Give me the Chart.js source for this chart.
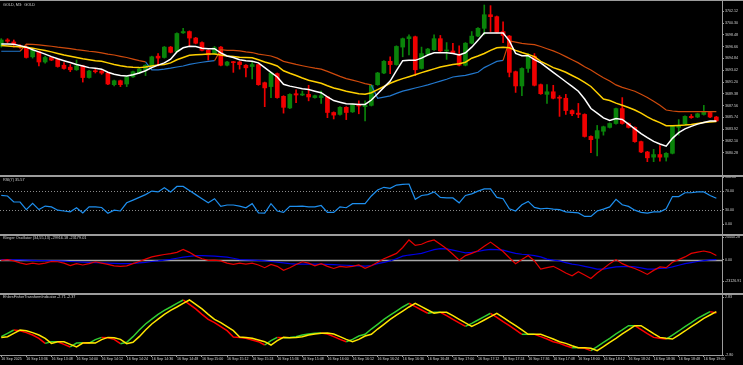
<!DOCTYPE html>
<html>
<head>
<meta charset="utf-8">
<script src="https://cdn.jsdelivr.net/npm/chart.js@4.4.1/dist/chart.umd.min.js"></script>
<style>
html, body { margin: 0; padding: 0; background: #000; }
#wrap { position: relative; width: 743px; height: 365px; background: #000; overflow: hidden; }
#wrap canvas { position: absolute; left: 0; }
</style>
</head>
<body>
<div id="wrap">
	<canvas id="main-pane" width="743" height="177" style="top:0px"></canvas>
	<canvas id="rsi-pane" width="743" height="59" style="top:177px"></canvas>
	<canvas id="klinger-pane" width="743" height="59" style="top:236px"></canvas>
	<canvas id="fisher-pane" width="743" height="70" style="top:295px"></canvas>
</div>
<script>
// GOLD M3 with MAs, RSI(7), Klinger and Ehlers Fisher panes

var tickLabels = ['16 Sep 2025', '16 Sep 13:36', '16 Sep 13:48', '16 Sep 14:00', '16 Sep 14:12', '16 Sep 14:24',
	'16 Sep 14:36', '16 Sep 14:48', '16 Sep 15:00', '16 Sep 15:12', '16 Sep 15:24', '16 Sep 15:36', '16 Sep 15:48',
	'16 Sep 16:00', '16 Sep 16:12', '16 Sep 16:24', '16 Sep 16:36', '16 Sep 16:48', '16 Sep 17:00', '16 Sep 17:12',
	'16 Sep 17:24', '16 Sep 17:36', '16 Sep 17:48', '16 Sep 18:00', '16 Sep 18:12', '16 Sep 18:24', '16 Sep 18:36',
	'16 Sep 18:48', '16 Sep 19:00'];

var priceTicks = [3702.12, 3700.30, 3698.48, 3696.66, 3694.84, 3693.02, 3691.20, 3689.38, 3687.56, 3685.74, 3683.92, 3682.10, 3680.28];
var rsiTicks = [100, 70, 30, 0];
var rsiLevels = [70, 30];
var klingerTicks = [24440.28, 0, -23126.91];
var fisherTicks = [2.83, -2.80];

var candleOpen = [3696.8, 3697.7, 3697.4, 3696.8, 3696.6, 3695.1, 3695.9, 3694.3, 3695.0, 3694.7,
	3693.8, 3693.5, 3693.1, 3693.7, 3691.9, 3692.9, 3692.9, 3692.6, 3690.8, 3691.4,
	3690.9, 3692.0, 3692.6, 3693.1, 3693.7, 3695.2, 3695.0, 3696.6, 3695.9, 3698.8,
	3699.0, 3698.0, 3697.3, 3696.1, 3695.6, 3696.6, 3693.8, 3694.3, 3694.3, 3693.8,
	3693.6, 3693.9, 3691.1, 3690.5, 3692.5, 3689.0, 3687.2, 3689.4, 3689.2, 3689.3,
	3688.8, 3688.8, 3688.9, 3686.5, 3686.2, 3687.3, 3686.6, 3687.7, 3687.4, 3687.6,
	3690.8, 3692.6, 3694.4, 3693.9, 3696.6, 3697.9, 3698.2, 3693.3, 3695.5, 3696.2,
	3697.9, 3696.0, 3696.0, 3695.4, 3693.8, 3697.2, 3698.3, 3699.5, 3701.6, 3701.3,
	3699.0, 3698.3, 3692.8, 3690.6, 3693.3, 3695.2, 3690.8, 3689.3, 3689.7, 3688.8,
	3688.7, 3686.8, 3686.4, 3686.2, 3682.8, 3682.5, 3683.6, 3684.2, 3684.8, 3687.1,
	3684.8, 3684.2, 3682.0, 3680.4, 3679.6, 3680.0, 3679.6, 3680.2, 3684.2, 3684.7,
	3685.9, 3685.8, 3686.2, 3686.5, 3685.8];
var candleHigh = [3697.9, 3697.9, 3697.7, 3697.0, 3696.8, 3696.3, 3696.0, 3695.2, 3695.1, 3694.8,
	3694.2, 3693.9, 3694.6, 3693.8, 3693.0, 3693.2, 3693.1, 3692.7, 3691.5, 3691.5,
	3692.1, 3692.9, 3693.3, 3693.9, 3695.2, 3695.6, 3696.7, 3696.7, 3698.8, 3699.5,
	3699.1, 3698.1, 3697.4, 3696.2, 3696.7, 3696.7, 3694.4, 3694.4, 3694.4, 3693.9,
	3694.4, 3694.0, 3691.2, 3692.7, 3692.6, 3689.1, 3689.4, 3690.0, 3689.8, 3690.7,
	3689.2, 3689.8, 3689.0, 3686.6, 3687.4, 3687.4, 3687.8, 3688.3, 3688.3, 3690.8,
	3692.7, 3694.5, 3695.1, 3696.8, 3698.0, 3698.5, 3698.3, 3696.6, 3696.4, 3698.5,
	3698.4, 3697.3, 3697.2, 3696.8, 3697.3, 3699.0, 3699.6, 3703.1, 3703.0, 3701.4,
	3700.5, 3698.4, 3692.9, 3693.4, 3695.6, 3695.6, 3690.9, 3690.8, 3690.7, 3689.1,
	3689.3, 3686.9, 3687.9, 3686.3, 3682.9, 3684.5, 3684.4, 3684.9, 3687.2, 3688.8,
	3684.9, 3684.3, 3682.1, 3680.5, 3680.8, 3681.4, 3680.3, 3684.5, 3685.4, 3686.0,
	3686.2, 3686.4, 3687.6, 3686.6, 3685.9];
var candleLow = [3696.6, 3697.3, 3696.6, 3696.4, 3694.9, 3694.9, 3693.7, 3694.1, 3694.5, 3693.5,
	3693.2, 3692.8, 3693.0, 3691.2, 3691.8, 3692.6, 3692.4, 3690.8, 3690.6, 3690.5,
	3690.5, 3691.9, 3692.5, 3692.2, 3693.6, 3693.7, 3694.9, 3695.7, 3695.8, 3698.7,
	3696.8, 3697.1, 3696.0, 3694.6, 3695.5, 3693.7, 3693.7, 3692.7, 3693.2, 3692.0,
	3691.7, 3690.7, 3687.4, 3688.8, 3688.7, 3686.4, 3687.1, 3688.0, 3689.1, 3688.3,
	3688.7, 3687.9, 3685.7, 3685.5, 3686.1, 3685.4, 3686.5, 3686.3, 3685.2, 3687.5,
	3690.7, 3692.5, 3692.5, 3693.8, 3695.1, 3695.4, 3692.2, 3693.2, 3695.4, 3696.1,
	3695.9, 3694.7, 3695.6, 3693.7, 3693.7, 3697.1, 3698.2, 3698.5, 3699.0, 3698.8,
	3697.3, 3692.0, 3689.6, 3689.1, 3692.7, 3690.6, 3689.3, 3687.9, 3688.6, 3685.9,
	3686.2, 3686.0, 3685.7, 3682.7, 3680.3, 3679.8, 3683.0, 3684.1, 3684.7, 3684.7,
	3684.1, 3681.9, 3680.3, 3678.9, 3678.9, 3679.0, 3679.0, 3680.1, 3683.0, 3684.6,
	3685.6, 3685.7, 3686.1, 3685.7, 3685.1];
var candleClose = [3697.7, 3697.5, 3697.0, 3696.6, 3695.0, 3696.1, 3694.3, 3695.0, 3694.6, 3693.6,
	3693.3, 3693.1, 3693.7, 3691.9, 3692.9, 3692.8, 3692.6, 3690.9, 3691.4, 3690.8,
	3692.0, 3692.8, 3693.2, 3693.8, 3695.1, 3694.9, 3696.6, 3695.8, 3698.7, 3699.0,
	3698.0, 3697.2, 3696.1, 3695.4, 3696.5, 3693.8, 3694.3, 3694.2, 3693.9, 3693.4,
	3693.9, 3690.8, 3690.3, 3692.6, 3688.8, 3687.3, 3689.3, 3689.2, 3689.3, 3688.9,
	3689.1, 3689.1, 3686.5, 3686.1, 3687.3, 3686.5, 3687.7, 3687.5, 3687.6, 3690.7,
	3692.6, 3694.4, 3693.9, 3696.7, 3697.9, 3698.2, 3693.1, 3695.6, 3696.3, 3697.9,
	3696.0, 3696.1, 3695.7, 3693.8, 3697.2, 3698.3, 3699.5, 3701.6, 3701.3, 3698.9,
	3698.4, 3692.7, 3690.6, 3693.3, 3695.2, 3690.7, 3689.4, 3689.7, 3688.7, 3688.7,
	3686.8, 3686.3, 3686.2, 3682.8, 3682.3, 3683.7, 3684.3, 3684.8, 3687.1, 3684.8,
	3684.2, 3682.0, 3680.4, 3679.5, 3680.0, 3679.6, 3680.2, 3684.4, 3684.5, 3685.9,
	3685.7, 3686.3, 3686.6, 3685.8, 3685.2];

var maWhite = [3697.07, 3697.07, 3697.03, 3696.83, 3696.59, 3696.20, 3695.86, 3695.52, 3695.13, 3694.79,
	3694.50, 3694.21, 3693.92, 3693.68, 3693.43, 3693.34, 3693.19, 3692.71, 3692.41, 3692.22,
	3692.12, 3692.32, 3692.61, 3692.95, 3693.43, 3693.82, 3694.16, 3694.74, 3695.86, 3696.49,
	3696.73, 3696.69, 3696.44, 3696.35, 3696.35, 3695.72, 3695.23, 3694.99, 3694.65, 3694.50,
	3694.40, 3694.16, 3693.43, 3692.71, 3691.98, 3690.86, 3690.57, 3690.38, 3690.18, 3690.04,
	3689.79, 3689.55, 3688.92, 3688.34, 3688.09, 3687.85, 3687.80, 3687.75, 3687.75, 3688.43,
	3689.40, 3690.38, 3691.35, 3692.95, 3694.50, 3694.55, 3694.55, 3694.89, 3695.38, 3695.72,
	3695.72, 3695.72, 3695.62, 3695.38, 3695.72, 3696.59, 3697.66, 3698.77, 3698.77, 3698.77,
	3698.77, 3697.56, 3695.62, 3695.28, 3695.28, 3694.65, 3694.16, 3693.43, 3692.71, 3691.98,
	3691.25, 3690.52, 3689.79, 3688.58, 3687.12, 3686.40, 3685.67, 3685.28, 3685.57, 3685.42,
	3684.70, 3683.97, 3683.24, 3682.61, 3682.03, 3681.64, 3681.30, 3682.51, 3683.39, 3683.97,
	3684.36, 3684.70, 3684.94, 3685.18, 3685.18];
var maYellow = [3696.83, 3696.78, 3696.69, 3696.64, 3696.59, 3696.44, 3696.25, 3696.06, 3695.86, 3695.62,
	3695.38, 3695.18, 3694.99, 3694.79, 3694.65, 3694.50, 3694.40, 3694.16, 3693.92, 3693.72,
	3693.58, 3693.48, 3693.43, 3693.53, 3693.68, 3693.82, 3693.92, 3694.16, 3694.65, 3694.99,
	3695.33, 3695.42, 3695.47, 3695.52, 3695.52, 3695.38, 3695.23, 3695.13, 3695.04, 3694.99,
	3694.94, 3694.65, 3694.31, 3694.02, 3693.68, 3692.95, 3692.56, 3692.22, 3691.83, 3691.49,
	3691.25, 3691.01, 3690.62, 3690.28, 3690.04, 3689.79, 3689.60, 3689.40, 3689.31, 3689.55,
	3690.04, 3690.52, 3691.01, 3691.40, 3691.73, 3692.03, 3692.32, 3692.66, 3692.95, 3693.24,
	3693.53, 3693.72, 3693.92, 3694.02, 3694.26, 3694.89, 3695.23, 3695.62, 3696.10, 3696.49,
	3696.59, 3696.49, 3696.10, 3695.76, 3695.47, 3695.13, 3694.40, 3693.92, 3693.43, 3693.09,
	3692.71, 3692.22, 3691.73, 3691.15, 3690.52, 3689.55, 3688.58, 3688.34, 3687.95, 3687.61,
	3687.27, 3686.88, 3686.40, 3685.81, 3685.33, 3684.94, 3684.45, 3684.45, 3684.50, 3684.55,
	3684.65, 3684.79, 3684.94, 3685.04, 3685.09];
// upper band (down trend) and lower band (up trend); null where the other one is active
var bandUpper = [null, null, null, 3695.96, 3697.07, 3697.03, 3696.93, 3696.83, 3696.73, 3696.59,
	3696.49, 3696.35, 3696.20, 3696.10, 3695.96, 3695.86, 3695.72, 3695.52, 3695.38, 3695.18,
	3694.99, 3694.74, 3694.50, 3694.31, null, null, null, null, null, null,
	null, null, null, null, 3694.50, 3696.20, 3696.10, 3696.10, 3696.01, 3695.86,
	3695.76, 3695.52, 3695.38, 3695.23, 3694.89, 3694.40, 3694.16, 3693.92, 3693.72, 3693.53,
	3693.34, 3693.19, 3692.85, 3692.46, 3692.07, 3691.73, 3691.49, 3691.25, 3690.96, 3690.76,
	null, null, null, null, null, null, null, null, null, null,
	null, null, null, null, null, null, null, null, null, null,
	3694.55, 3697.56, 3697.37, 3697.17, 3697.07, 3696.98, 3696.69, 3696.35, 3696.01, 3695.62,
	3695.13, 3694.65, 3694.16, 3693.58, 3693.05, 3692.46, 3691.88, 3691.35, 3690.76, 3690.38,
	3690.09, 3689.79, 3689.31, 3688.82, 3688.24, 3687.61, 3686.88, 3686.73, 3686.64, 3686.64,
	3686.64, 3686.64, 3686.64, 3686.64, 3686.64];
var bandLower = [3695.96, 3695.96, 3695.96, 3695.96, null, null, null, null, null, null,
	null, null, null, null, null, null, null, null, null, null,
	null, null, null, 3694.31, 3693.09, 3693.09, 3693.19, 3693.34, 3693.53, 3693.68,
	3693.92, 3694.11, 3694.26, 3694.40, 3694.50, null, null, null, null, null,
	null, null, null, null, null, null, null, null, null, null,
	null, null, null, null, null, null, null, null, null, 3690.76,
	3688.68, 3688.87, 3689.06, 3689.45, 3689.79, 3690.04, 3690.28, 3690.52, 3690.76, 3691.06,
	3691.35, 3691.64, 3691.98, 3692.12, 3692.22, 3692.46, 3692.71, 3693.43, 3693.92, 3694.40,
	3694.55, null, null, null, null, null, null, null, null, null,
	null, null, null, null, null, null, null, null, null, null,
	null, null, null, null, null, null, null, null, null, null,
	null, null, null, null, null];

var rsiValues = [60.7, 59.6, 46.8, 46.8, 30.6, 43.9, 30.6, 38.1, 36.4, 29.4,
	27.7, 25.9, 34.6, 23.6, 36.4, 36.4, 35.2, 23.0, 29.4, 27.7,
	45.1, 50.9, 56.7, 62.5, 70.0, 68.3, 77.0, 68.3, 79.9, 79.9,
	71.2, 62.5, 53.8, 45.1, 53.8, 37.5, 40.4, 40.4, 38.1, 34.6,
	43.3, 23.6, 23.0, 43.3, 27.7, 24.8, 37.5, 37.5, 38.1, 36.4,
	36.4, 39.3, 24.8, 24.8, 36.4, 34.6, 43.3, 43.3, 43.3, 59.6,
	72.3, 78.1, 75.8, 82.8, 84.5, 85.1, 52.6, 60.7, 62.5, 68.3,
	56.7, 55.5, 55.5, 45.1, 60.7, 64.2, 70.0, 74.6, 74.6, 56.7,
	53.8, 32.3, 27.7, 41.0, 48.0, 35.2, 32.3, 33.5, 31.7, 30.6,
	25.9, 24.8, 23.6, 16.1, 16.1, 27.7, 31.7, 36.4, 52.6, 41.0,
	37.5, 29.4, 24.8, 23.0, 25.9, 25.9, 32.3, 58.4, 58.4, 66.5,
	66.5, 68.3, 68.3, 60.7, 54.9];

var klingerMain = [-873, 0, -1455, -3492, -5238, -3783, -4947, -3783, -2037, -2328,
	-3783, -6402, -4365, -5820, -4365, -2328, -3783, -5238, -6693, -7275,
	-6693, -4365, -2037, 582, 2910, 4365, 5529, 6402, 7857, 11058,
	7857, 3783, 873, -873, -582, -1455, -3783, -5238, -3783, -4947,
	-3783, -5820, -8730, -5238, -7275, -11640, -8730, -5238, -2328, -3783,
	-6693, -4365, -7275, -9603, -7275, -8148, -7275, -5820, -9312, -6693,
	-2910, 873, 3783, 6693, 13095, 21243, 15423, 16587, 19497, 21243,
	16587, 11640, 5820, -582, 4365, 6693, 9603, 14550, 18915, 13968,
	8730, 2037, -4365, 0, 4365, -1455, -10185, -8730, -7275, -10767,
	-14550, -17460, -13095, -16587, -20370, -14550, -9603, -4365, 0, -4365,
	-7275, -9603, -12513, -16005, -11640, -7857, -8730, -2910, 0, 2910,
	6693, 8148, 9312, 7857, 4365];
var klingerSignal = [0, 0, -291, -291, -582, -873, -1164, -1164, -1455, -1455,
	-1746, -2037, -2328, -2619, -2910, -3201, -3492, -3783, -4074, -4365,
	-4365, -4074, -3492, -2910, -2037, -1455, -582, 291, 1455, 2619,
	3492, 4365, 4365, 4074, 3783, 3201, 2619, 1455, 0, -291,
	-582, -873, -1455, -2037, -2619, -3492, -4365, -4947, -4947, -4947,
	-4947, -4947, -5238, -5529, -5820, -6111, -6402, -6693, -6984, -6402,
	-4365, -2910, -1455, 873, 3783, 4947, 5820, 6693, 8730, 10767,
	11931, 11640, 10185, 8730, 7275, 7857, 8730, 10185, 11058, 10767,
	10185, 8439, 6693, 5820, 5238, 4365, 2910, 582, -582, -1455,
	-3201, -4947, -5820, -7275, -8730, -10185, -10185, -9021, -7857, -7566,
	-7275, -7857, -9021, -10185, -10185, -9603, -9312, -7857, -6111, -4365,
	-3201, -2037, -1164, -291, 0];

var fisherValues = [-1.02, -0.70, -0.37, -0.44, -0.63, -0.86, -1.18, -1.67, -1.51, -1.51,
	-1.77, -2.02, -1.64, -1.60, -1.64, -1.31, -1.09, -1.12, -1.28, -1.70,
	-1.57, -1.02, -0.37, 0.21, 0.69, 1.15, 1.54, 1.86, 2.22, 2.54,
	2.12, 1.67, 1.15, 0.66, 0.34, -0.05, -0.44, -1.05, -1.09, -1.18,
	-1.34, -1.51, -1.83, -1.41, -1.09, -1.12, -1.09, -1.02, -0.86, -0.76,
	-0.70, -0.67, -0.76, -1.02, -1.28, -1.51, -1.28, -0.96, -0.79, -0.28,
	0.18, 0.66, 1.08, 1.47, 1.86, 2.22, 1.89, 1.57, 1.25, 1.34,
	1.34, 1.02, 0.66, 0.31, -0.02, 0.27, 0.60, 0.92, 1.25, 0.86,
	0.44, 0.05, -0.37, -0.79, -0.79, -0.79, -1.02, -1.25, -1.51, -1.67,
	-1.90, -2.09, -2.09, -2.15, -2.38, -1.99, -1.57, -1.18, -0.76, -0.37,
	0.05, 0.05, -0.34, -0.73, -1.09, -1.18, -1.25, -0.86, -0.47, -0.05,
	0.34, 0.76, 1.08, 1.41, 1.28];
var fisherTrigger = [-1.09, -1.02, -0.70, -0.37, -0.44, -0.63, -0.86, -1.18, -1.67, -1.51,
	-1.51, -1.77, -2.02, -1.64, -1.60, -1.64, -1.31, -1.09, -1.12, -1.28,
	-1.70, -1.57, -1.02, -0.37, 0.21, 0.69, 1.15, 1.54, 1.86, 2.22,
	2.54, 2.12, 1.67, 1.15, 0.66, 0.34, -0.05, -0.44, -1.05, -1.09,
	-1.18, -1.34, -1.51, -1.83, -1.41, -1.09, -1.12, -1.09, -1.02, -0.86,
	-0.76, -0.70, -0.67, -0.76, -1.02, -1.28, -1.51, -1.28, -0.96, -0.79,
	-0.28, 0.18, 0.66, 1.08, 1.47, 1.86, 2.22, 1.89, 1.57, 1.25,
	1.34, 1.34, 1.02, 0.66, 0.31, -0.02, 0.27, 0.60, 0.92, 1.25,
	0.86, 0.44, 0.05, -0.37, -0.79, -0.79, -0.79, -1.02, -1.25, -1.51,
	-1.67, -1.90, -2.09, -2.09, -2.15, -2.38, -1.99, -1.57, -1.18, -0.76,
	-0.37, 0.05, 0.05, -0.34, -0.73, -1.09, -1.18, -1.25, -0.86, -0.47,
	-0.05, 0.34, 0.76, 1.08, 1.41];

var FRAME = '#9c9c9c';
var TEXT = '#d2d2d2';
var FONT = 'Liberation Sans, Arial, sans-serif';
var UP = '#0a840a';
var DOWN = '#f00000';

function series(vals) {
	return vals.map(function(v, i) { return { x: i, y: v }; });
}

// separators, right axis line, level lines and pane captions
var paneDeco = {
	id: 'paneDeco',
	beforeDatasetsDraw: function(chart, args, o) {
		var ctx = chart.ctx, a = chart.chartArea, ys = chart.scales.y;
		ctx.save();
		(o.levels || []).forEach(function(lv) {
			var py = Math.round(ys.getPixelForValue(lv.value)) + 0.5;
			ctx.strokeStyle = lv.color;
			ctx.lineWidth = lv.width;
			ctx.setLineDash(lv.dash || []);
			ctx.beginPath(); ctx.moveTo(a.left, py); ctx.lineTo(a.right, py); ctx.stroke();
		});
		ctx.restore();
	},
	afterDraw: function(chart, args, o) {
		var ctx = chart.ctx, a = chart.chartArea;
		ctx.save();
		ctx.fillStyle = FRAME;
		if (o.topLine) ctx.fillRect(0, 0, chart.width, 1);
		if (o.bottomAxis) {
			ctx.fillRect(0, Math.round(a.bottom), Math.round(a.right) + 1, 1);
			ctx.fillRect(Math.round(a.right), 0, 1, Math.round(a.bottom) + 1);
		} else {
			ctx.fillRect(0, chart.height - 2, chart.width, 2);
			ctx.fillRect(Math.round(a.right), 0, 1, chart.height);
		}
		ctx.font = '3.8px ' + FONT;
		ctx.fillStyle = TEXT;
		ctx.textBaseline = 'middle';
		ctx.fillText(o.title, 3, o.titleY);
		ctx.restore();
	}
};

function paneOptions(yMin, yMax, yTicks, padding, showX, deco) {
	return {
		responsive: false,
		animation: false,
		devicePixelRatio: 1,
		layout: { padding: padding },
		plugins: { legend: { display: false }, tooltip: { enabled: false }, paneDeco: deco },
		scales: {
			x: {
				type: 'linear', min: -0.2, max: 114.9, bounds: 'data', offset: false,
				display: showX,
				grid: { display: true, drawOnChartArea: false, drawTicks: true, tickLength: 2, color: FRAME },
				border: { display: false },
				ticks: {
					autoSkip: false, maxRotation: 0, minRotation: 0, align: 'start', padding: 0,
					color: TEXT, font: { family: FONT, size: 3.6 },
					callback: function(v, idx) { return tickLabels[idx]; }
				},
				afterBuildTicks: function(s) {
					s.ticks = tickLabels.map(function(t, k) { return { value: k * 4 }; });
				},
				afterFit: function(s) { s.height = 10; s.paddingLeft = 0; s.paddingRight = 0; }
			},
			y: {
				position: 'right', min: yMin, max: yMax, bounds: 'data',
				grid: { display: true, drawOnChartArea: false, drawTicks: true, tickLength: 2, color: FRAME },
				border: { display: false },
				ticks: {
					padding: 1, color: TEXT, font: { family: FONT, size: 3.6 },
					callback: function(v) { return Number(v).toFixed(2); }
				},
				afterBuildTicks: function(s) {
					s.ticks = yTicks.map(function(v) { return { value: v }; });
				},
				afterFit: function(s) { s.width = 21; s.paddingTop = 0; s.paddingBottom = 0; }
			}
		}
	};
}

function lineSet(vals, color, width, order) {
	return { type: 'line', data: series(vals), borderColor: color, borderWidth: width,
		pointRadius: 0, tension: 0, spanGaps: false, order: order };
}

// main price pane
var bodyColors = candleOpen.map(function(o, i) { return candleClose[i] >= o ? UP : DOWN; });
var mainSets = [
	lineSet(maWhite, '#ffffff', 1.5, 1),
	lineSet(maYellow, '#ffd000', 1.5, 1),
	lineSet(bandUpper, '#cf4a0c', 1.2, 1),
	lineSet(bandLower, '#2277cc', 1.2, 1),
	{ type: 'bar', data: candleOpen.map(function(o, i) { return { x: i, y: [o, candleClose[i]] }; }),
		backgroundColor: bodyColors, borderWidth: 0, barThickness: 4, minBarLength: 1, grouped: false, order: 2 },
	{ type: 'bar', data: candleOpen.map(function(o, i) { return { x: i, y: [candleLow[i], candleHigh[i]] }; }),
		backgroundColor: bodyColors, borderWidth: 0, barThickness: 1, grouped: false, order: 3 }
];
new Chart(document.getElementById('main-pane'), {
	type: 'bar',
	data: { datasets: mainSets },
	options: paneOptions(3678.39, 3703.72, priceTicks, { top: 1, bottom: 2, left: 0, right: 0 }, false,
		{ title: 'GOLD, M3:  GOLD', titleY: 4.5, topLine: true }),
	plugins: [paneDeco]
});

// RSI pane
new Chart(document.getElementById('rsi-pane'), {
	type: 'line',
	data: { datasets: [ lineSet(rsiValues, '#1e8fef', 1.2, 1) ] },
	options: paneOptions(0, 100, rsiTicks, { top: 0, bottom: 2, left: 0, right: 0 }, false,
		{ title: 'RSI(7) 35.57', titleY: 2.6,
		  levels: rsiLevels.map(function(v) { return { value: v, color: '#8a8a8a', width: 1, dash: [1, 2] }; }) }),
	plugins: [paneDeco]
});

// Klinger pane
new Chart(document.getElementById('klinger-pane'), {
	type: 'line',
	data: { datasets: [ lineSet(klingerMain, '#e60000', 1.2, 1), lineSet(klingerSignal, '#0000e6', 1.2, 2) ] },
	options: paneOptions(-23126.91, 24440.28, klingerTicks, { top: 1, bottom: 4, left: 0, right: 0 }, false,
		{ title: 'Klinger Oscillator (34,55,13) -29916.18 -23179.01', titleY: 1.8,
		  levels: [ { value: 0, color: '#a8a8a8', width: 1.5 } ] }),
	plugins: [paneDeco]
});

// Ehlers Fisher pane
var fisherSet = lineSet(fisherValues, '#32cd32', 1.5, 2);
fisherSet.segment = {
	borderColor: function(c) { return c.p1.parsed.y >= c.p0.parsed.y ? '#32cd32' : '#ff0000'; }
};
new Chart(document.getElementById('fisher-pane'), {
	type: 'line',
	data: { datasets: [ lineSet(fisherTrigger, '#ffe600', 1.5, 1), fisherSet ] },
	options: paneOptions(-2.80, 2.83, fisherTicks, { top: 2, bottom: 0, left: 0, right: 0 }, true,
		{ title: 'EhlersFisherTransformIndicator -2.71 -2.37', titleY: 1.8, bottomAxis: true }),
	plugins: [paneDeco]
});
</script>
</body>
</html>
